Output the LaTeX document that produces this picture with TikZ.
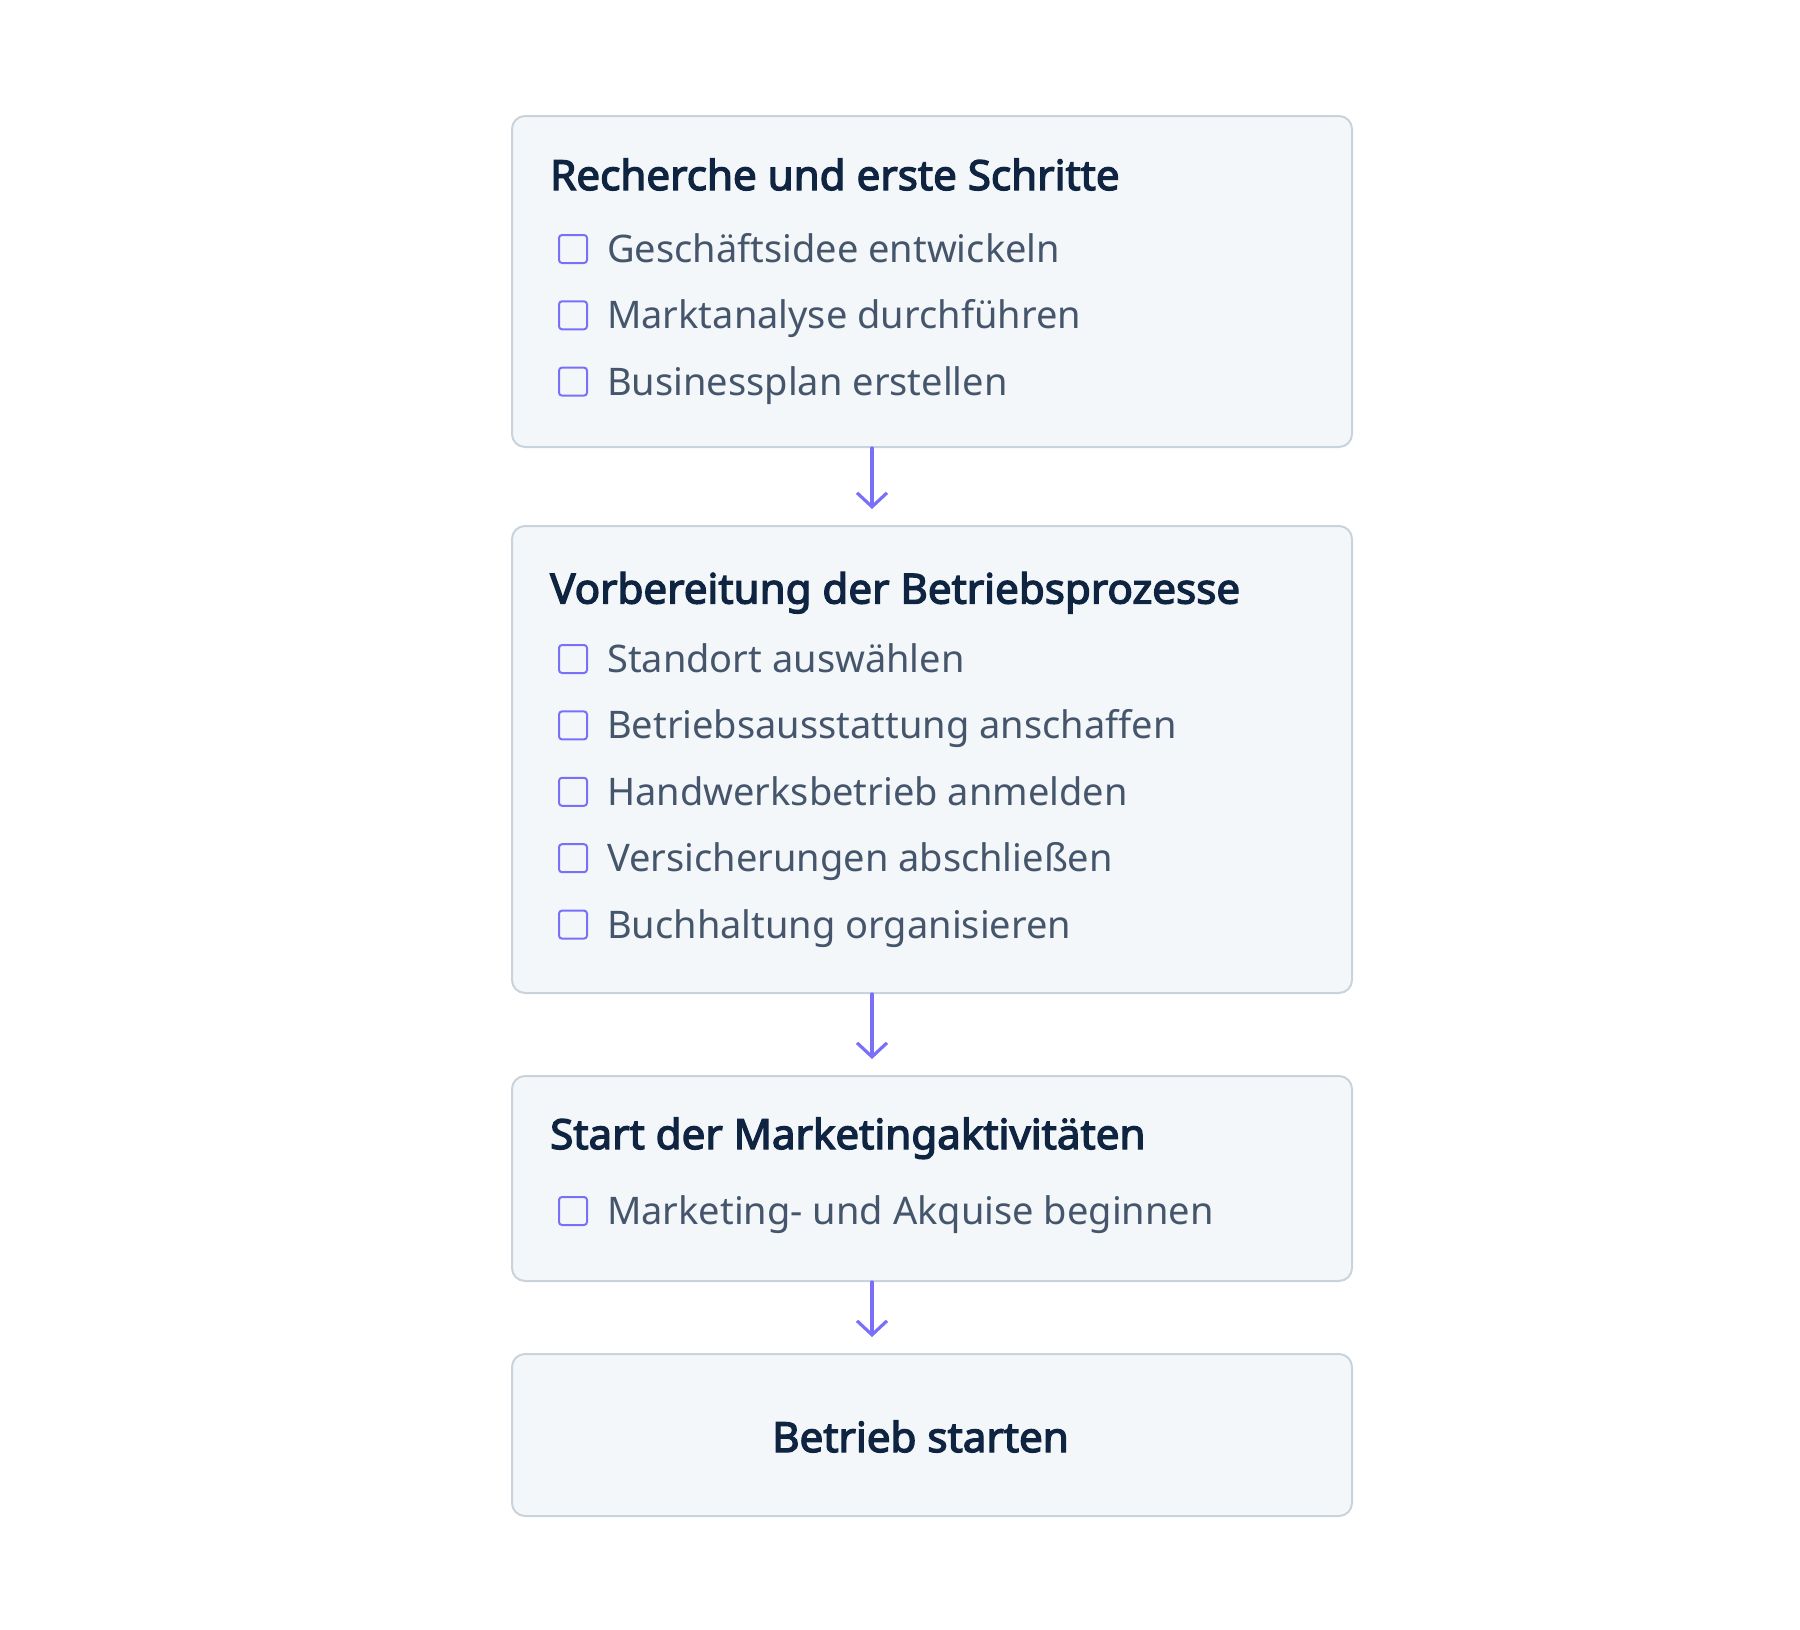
\documentclass[tikz,border=0pt]{standalone}
\usepackage{fontspec}
\setmainfont{Noto Sans}
\newfontfamily\ttlfont{Noto Sans}[FakeBold=3.2,FakeStretch=1.015]
\usetikzlibrary{arrows.meta}
\definecolor{boxfill}{HTML}{F4F7FA}
\definecolor{boxline}{HTML}{C9D3DC}
\definecolor{titlecol}{HTML}{0E2440}
\definecolor{itemcol}{HTML}{45556B}
\definecolor{accent}{HTML}{7A70F8}
\tikzset{
  box/.style={draw=boxline, fill=boxfill, line width=2pt, rounded corners=13pt,
    anchor=north west, minimum width=840pt, inner sep=0pt},
  ttl/.style={anchor=base west, inner sep=0pt, text=titlecol,
    font=\ttlfont\fontsize{41.5}{48}\selectfont},
  itm/.style={anchor=base west, inner sep=0pt, text=itemcol,
    font=\fontsize{38}{44}\selectfont},
  cbox/.style={draw=accent, line width=2pt, rounded corners=3pt, minimum size=28pt,
    inner sep=0pt, fill=boxfill},
  arr/.style={draw=accent, line width=3.2pt, line cap=round, line join=round,
    -{Straight Barb[length=14pt,width=30pt,line width=3.2pt]}, shorten >=16pt}
}
\begin{document}
\begin{tikzpicture}[x=1pt,y=-1pt]
\useasboundingbox (0,0) rectangle (1800,1630);
% boxes
\node[box, minimum height=331pt] (b1) at (511,115) {};
\node[box, minimum height=467pt] (b2) at (511,525) {};
\node[box, minimum height=205pt] (b3) at (511,1075) {};
\node[box, minimum height=162pt] (b4) at (511,1353) {};
\coordinate (ax) at (872,0);
% arrows
\draw[arr] (b1.south -| ax) -- (b2.north -| ax);
\draw[arr] (b2.south -| ax) -- (b3.north -| ax);
\draw[arr] (b3.south -| ax) -- (b4.north -| ax);
% box 1
\node[ttl] (t1) at (550,190) {Recherche und erste Schritte};
\node[cbox] (c11) at (573,249) {};
\node[itm] (i11) at (607,262.5) {Geschäftsidee entwickeln};
\node[cbox] (c12) at (573,315.3) {};
\node[itm] (i12) at (607,328.8) {Marktanalyse durchführen};
\node[cbox] (c13) at (573,381.6) {};
\node[itm] (i13) at (607,395.1) {Businessplan erstellen};
% box 2
\node[ttl] (t2) at (550,603.5) {Vorbereitung der Betriebsprozesse};
\node[cbox] (c21) at (573,659) {};
\node[itm] (i21) at (607,672.5) {Standort auswählen};
\node[cbox] (c22) at (573,725.4) {};
\node[itm] (i22) at (607,738.9) {Betriebsausstattung anschaffen};
\node[cbox] (c23) at (573,791.8) {};
\node[itm] (i23) at (607,805.3) {Handwerksbetrieb anmelden};
\node[cbox] (c24) at (573,858.2) {};
\node[itm] (i24) at (607,871.7) {Versicherungen abschließen};
\node[cbox] (c25) at (573,924.6) {};
\node[itm] (i25) at (607,938.1) {Buchhaltung organisieren};
% box 3
\node[ttl] (t3) at (550,1149) {Start der Marketingaktivitäten};
\node[cbox] (c31) at (573,1211) {};
\node[itm] (i31) at (607,1224.5) {Marketing- und Akquise beginnen};
% box 4
\node[ttl, anchor=base] (t4) at (920.5,1452) {Betrieb starten};
\end{tikzpicture}
\end{document}
